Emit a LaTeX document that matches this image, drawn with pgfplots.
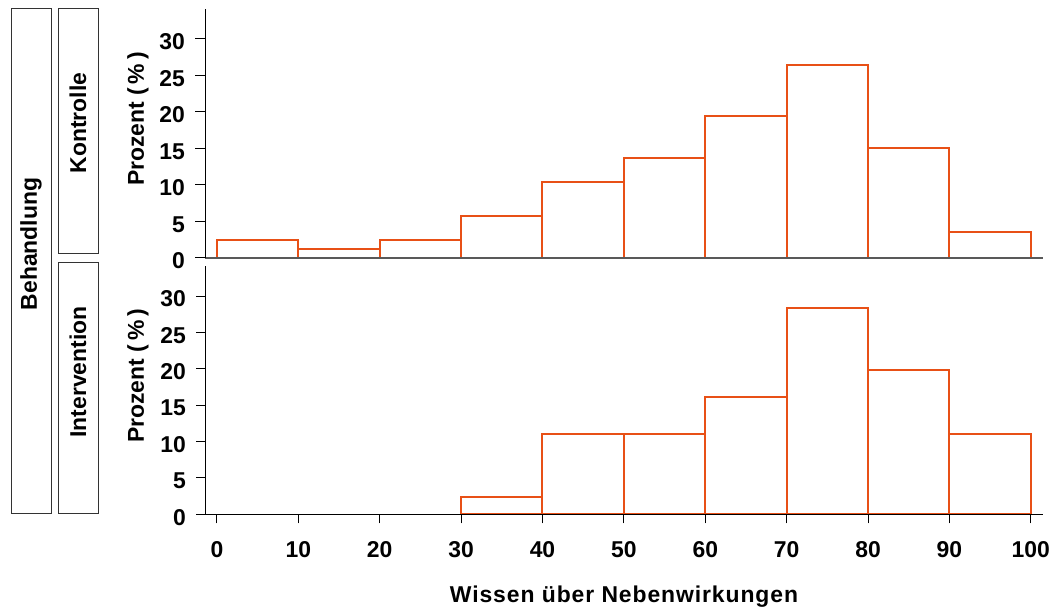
\documentclass[border=0pt]{standalone}
\usepackage{fontspec}
\setmainfont{Liberation Sans}
\usepackage{pgfplots}
\pgfplotsset{compat=1.18}
\definecolor{barc}{RGB}{232,80,22}
\newcommand{\lab}{\fontsize{23}{27}\selectfont\bfseries}

\pgfplotsset{
  panel/.style={
    scale only axis,
    width=838bp,
    xmin=-1.47, xmax=101.5,
    ymin=0, ymax=34.1,
    axis x line*=bottom,
    axis y line*=left,
    axis on top,
    ytick={0,5,...,30},
    tick align=outside,
    major tick length=10bp,
    tick style={black, line width=1bp},
    axis line style={line width=1bp},
    ylabel={Prozent (\,\%\,)},
    ylabel style={at={(axis description cs:-0.08,0.558)}, anchor=center, font=\lab},
    tick label style={font=\lab},
    /pgf/number format/assume math mode=true,
    yticklabel style={anchor=east, inner sep=0pt, xshift=-10bp, yshift=-3bp},
  },
  bars/.style={ybar interval, draw=barc, fill=white, line width=2bp},
}

\begin{document}
\begin{tikzpicture}
\useasboundingbox (0,0) rectangle (1055bp,610bp);

% strip labels
\draw[line width=1bp, black!80] (11bp,96bp) rectangle (51bp,601bp);
\node[rotate=90, font=\lab] at (31bp,366bp) {Behandlung};
\draw[line width=1bp, black!80] (58bp,356bp) rectangle (98bp,601bp);
\node[rotate=90, font=\lab] at (78bp,487bp) {Kontrolle};
\draw[line width=1bp, black!80] (58bp,96bp) rectangle (98bp,347bp);
\node[rotate=90, font=\lab] at (78bp,238bp) {Intervention};

% Kontrolle
\begin{axis}[panel,
  at={(205bp,352bp)}, anchor=south west,
  height=249bp,
  xtick=\empty,
  x axis line style={black!65, line width=1.5bp},
]
\addplot[bars] coordinates {
  (0,2.5) (10,1.2) (20,2.5) (30,5.7) (40,10.4) (50,13.7)
  (60,19.5) (70,26.4) (80,15.0) (90,3.5) (100,3.5)
};
\end{axis}

% Intervention
\begin{axis}[panel,
  at={(205bp,95.7bp)}, anchor=south west,
  height=248bp,
  xtick={0,10,...,100},
  major tick length=9bp,
  xticklabel style={anchor=base, inner sep=0pt, yshift=-34bp},
  xlabel={\addfontfeatures{LetterSpace=4}Wissen über Nebenwirkungen},
  xlabel style={at={(axis description cs:0.5,-0.356)}, anchor=base, font=\lab},
]
\addplot[bars] coordinates {
  (30,2.4) (40,11.1) (50,11.1) (60,16.1) (70,28.4)
  (80,19.8) (90,11.1) (100,11.1)
};
\end{axis}
\end{tikzpicture}
\end{document}
